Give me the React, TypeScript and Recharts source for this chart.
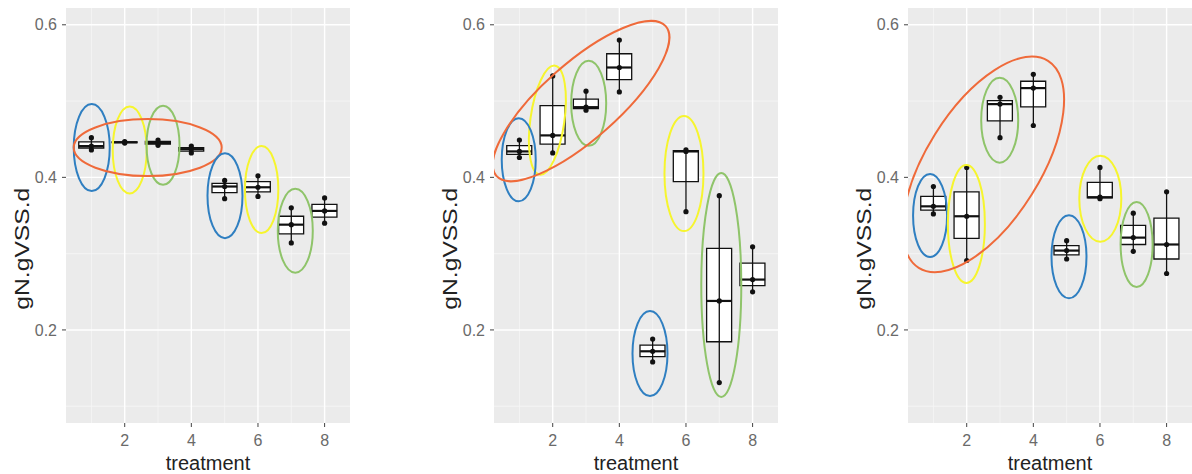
import React from "react";
import {
  ComposedChart,
  Bar,
  Scatter,
  ErrorBar,
  XAxis,
  YAxis,
  CartesianGrid,
  Label,
} from "recharts";

// treatments on the x axis and the tick labels
const treatments = [1, 2, 3, 4, 5, 6, 7, 8];
const xTicks = [2, 4, 6, 8];
const xMinor = [1, 3, 5, 7];
const yTicks = [0.2, 0.4, 0.6];
const yMinor = [0.1, 0.3, 0.5];

// three replicate measurements per treatment, one list per panel
const left = [
  [0.436, 0.441, 0.452],
  [0.445, 0.446, 0.447],
  [0.442, 0.445, 0.449],
  [0.432, 0.437, 0.441],
  [0.372, 0.388, 0.396],
  [0.375, 0.387, 0.402],
  [0.314, 0.338, 0.36],
  [0.34, 0.356, 0.373],
];
const middle = [
  [0.426, 0.434, 0.449],
  [0.432, 0.455, 0.533],
  [0.488, 0.492, 0.513],
  [0.512, 0.544, 0.58],
  [0.158, 0.172, 0.188],
  [0.355, 0.434, 0.436],
  [0.131, 0.238, 0.376],
  [0.25, 0.266, 0.309],
];
const right = [
  [0.352, 0.362, 0.388],
  [0.291, 0.349, 0.413],
  [0.452, 0.496, 0.505],
  [0.468, 0.517, 0.535],
  [0.293, 0.304, 0.317],
  [0.372, 0.374, 0.413],
  [0.303, 0.321, 0.353],
  [0.274, 0.312, 0.381],
];

// hand drawn rings: centre in data units, radii in px, tilt in degrees
const BLUE = "#2f7fc1";
const YELLOW = "#f6f52e";
const GREEN = "#8fc46a";
const ORANGE = "#ef6a3a";

const leftRings = [
  { x: 1.01, y: 0.439, rx: 18, ry: 43.5, angle: 0, color: BLUE },
  { x: 2.15, y: 0.436, rx: 17, ry: 43.5, angle: 0, color: YELLOW },
  { x: 3.15, y: 0.442, rx: 16.5, ry: 39.5, angle: 0, color: GREEN },
  { x: 2.69, y: 0.439, rx: 74, ry: 28.5, angle: 0, color: ORANGE },
  { x: 5.01, y: 0.376, rx: 17.5, ry: 42.5, angle: 0, color: BLUE },
  { x: 6.11, y: 0.384, rx: 16.7, ry: 43.5, angle: 0, color: YELLOW },
  { x: 7.12, y: 0.33, rx: 17.5, ry: 42, angle: 0, color: GREEN },
];
const middleRings = [
  { x: 1.84, y: 0.475, rx: 17, ry: 55, angle: 8, color: YELLOW },
  { x: 3.08, y: 0.497, rx: 17.5, ry: 42.5, angle: 0, color: GREEN },
  { x: 0.98, y: 0.423, rx: 17, ry: 41.5, angle: 0, color: BLUE },
  { x: 2.85, y: 0.5, rx: 113, ry: 38, angle: -41.5, color: ORANGE },
  { x: 4.92, y: 0.169, rx: 17.5, ry: 42.5, angle: 0, color: BLUE },
  { x: 5.94, y: 0.405, rx: 19.5, ry: 57.5, angle: 0, color: YELLOW },
  { x: 7.06, y: 0.259, rx: 20, ry: 112, angle: 0, color: GREEN },
];
const rightRings = [
  { x: 0.9, y: 0.35, rx: 17, ry: 41.5, angle: 0, color: BLUE },
  { x: 1.99, y: 0.339, rx: 18.5, ry: 59, angle: 0, color: YELLOW },
  { x: 2.99, y: 0.475, rx: 18.5, ry: 42.5, angle: 0, color: GREEN },
  { x: 2.5, y: 0.417, rx: 122, ry: 57, angle: -58, color: ORANGE },
  { x: 5.07, y: 0.296, rx: 17.5, ry: 41.5, angle: 0, color: BLUE },
  { x: 6.01, y: 0.372, rx: 21, ry: 43, angle: 0, color: YELLOW },
  { x: 7.1, y: 0.312, rx: 16, ry: 42.5, angle: 0, color: GREEN },
];

const FONT = "'Liberation Sans', Arial, sans-serif";
const BOX_W = 25;
const PLOT_W = 284;
const X_DOMAIN = [0.2375, 8.7625];
// padding that puts the hidden band axis' centres on the numeric axis' integers
const BAND_PAD =
  (PLOT_W - (PLOT_W / (X_DOMAIN[1] - X_DOMAIN[0])) * treatments.length) / 2;

// type 7 quantile, as R computes it
function quantile(sorted: number[], p: number) {
  const h = (sorted.length - 1) * p;
  const lo = Math.floor(h);
  const hi = Math.ceil(h);
  return sorted[lo] + (h - lo) * (sorted[hi] - sorted[lo]);
}

function boxStats(reps: number[][]) {
  return reps.map((r, i) => {
    const s = [...r].sort((a, b) => a - b);
    const med = quantile(s, 0.5);
    return {
      x: treatments[i],
      box: [quantile(s, 0.25), quantile(s, 0.75)],
      med,
      whisk: [med - s[0], s[s.length - 1] - med],
    };
  });
}

function points(reps: number[][]) {
  return reps.flatMap((r, i) => r.map((v) => ({ x: treatments[i], y: v })));
}

const MedianLine = (p: any) => (
  <line x1={p.cx - BOX_W / 2} x2={p.cx + BOX_W / 2} y1={p.cy} y2={p.cy} stroke="#111" strokeWidth={2.2} />
);

const Dot = (p: any) => <circle cx={p.cx} cy={p.cy} r={2.6} fill="#111" />;

const Ring = (p: any) => (
  <ellipse
    cx={p.cx}
    cy={p.cy}
    rx={p.payload.rx}
    ry={p.payload.ry}
    transform={`rotate(${p.payload.angle} ${p.cx} ${p.cy})`}
    fill="none"
    stroke={p.payload.color}
    strokeWidth={2}
  />
);

const YTitle = (props: any) => {
  const { x, y, height } = props.viewBox;
  const cx = x + 22;
  const cy = y + height * 0.58;
  return (
    <text
      x={cx}
      y={cy}
      transform={`rotate(-90 ${cx} ${cy})`}
      textAnchor="middle"
      dominantBaseline="central"
      fontFamily={FONT}
      fontSize={20}
      fill="#222"
      textLength={122}
      lengthAdjust="spacingAndGlyphs"
    >
      gN.gVSS.d
    </text>
  );
};

const XTitle = (props: any) => {
  const { x, y, width } = props.viewBox;
  return (
    <text
      x={x + width / 2}
      y={y + 40}
      textAnchor="middle"
      dominantBaseline="central"
      fontFamily={FONT}
      fontSize={20}
      fill="#222"
    >
      treatment
    </text>
  );
};

function Panel(props: { reps: number[][]; rings: any[]; left: number }) {
  const stats = boxStats(props.reps);
  const tickStyle = { fontFamily: FONT, fontSize: 16, fill: "#6a6a6a" };
  return (
    <div style={{ position: "absolute", left: props.left, top: 0 }}>
      <ComposedChart
        width={66 + PLOT_W}
        height={474}
        data={stats}
        margin={{ top: 8, right: 0, bottom: 0, left: 0 }}
      >
        <CartesianGrid
          fill="#ebebeb"
          stroke="#f8f8f8"
          strokeWidth={0.7}
          horizontalValues={yMinor}
          verticalValues={xMinor}
        />
        <CartesianGrid
          stroke="#ffffff"
          strokeWidth={1.4}
          horizontalValues={yTicks}
          verticalValues={xTicks}
        />
        <XAxis
          dataKey="x"
          type="number"
          domain={X_DOMAIN}
          ticks={xTicks}
          allowDataOverflow
          height={51}
          axisLine={false}
          tickSize={4}
          tickMargin={8}
          tickLine={{ stroke: "#444" }}
          tick={tickStyle}
        >
          <Label content={XTitle} />
        </XAxis>
        <XAxis
          xAxisId="band"
          dataKey="x"
          type="category"
          hide
          padding={{ left: BAND_PAD, right: BAND_PAD }}
        />
        <YAxis
          type="number"
          domain={[0.078, 0.622]}
          ticks={yTicks}
          allowDataOverflow
          width={66}
          axisLine={false}
          tickSize={4}
          tickMargin={5}
          tickLine={{ stroke: "#444" }}
          tick={tickStyle}
        >
          <Label content={YTitle} />
        </YAxis>
        <Scatter data={stats} dataKey="med" shape={() => <g />} isAnimationActive={false}>
          <ErrorBar dataKey="whisk" direction="y" width={0} stroke="#111" strokeWidth={1.3} />
        </Scatter>
        <Bar
          xAxisId="band"
          dataKey="box"
          barSize={BOX_W}
          fill="#ffffff"
          stroke="#111"
          strokeWidth={1.3}
          isAnimationActive={false}
        />
        <Scatter data={stats} dataKey="med" shape={MedianLine} isAnimationActive={false} />
        <Scatter data={points(props.reps)} dataKey="y" shape={Dot} isAnimationActive={false} />
        <Scatter data={props.rings} dataKey="y" shape={Ring} isAnimationActive={false} />
      </ComposedChart>
    </div>
  );
}

export default function App() {
  return (
    <div
      style={{
        position: "absolute",
        left: 0,
        top: 0,
        width: 1192,
        height: 474,
        background: "#ffffff",
        overflow: "hidden",
      }}
    >
      <Panel reps={left} rings={leftRings} left={0} />
      <Panel reps={middle} rings={middleRings} left={428} />
      <Panel reps={right} rings={rightRings} left={842} />
    </div>
  );
}
